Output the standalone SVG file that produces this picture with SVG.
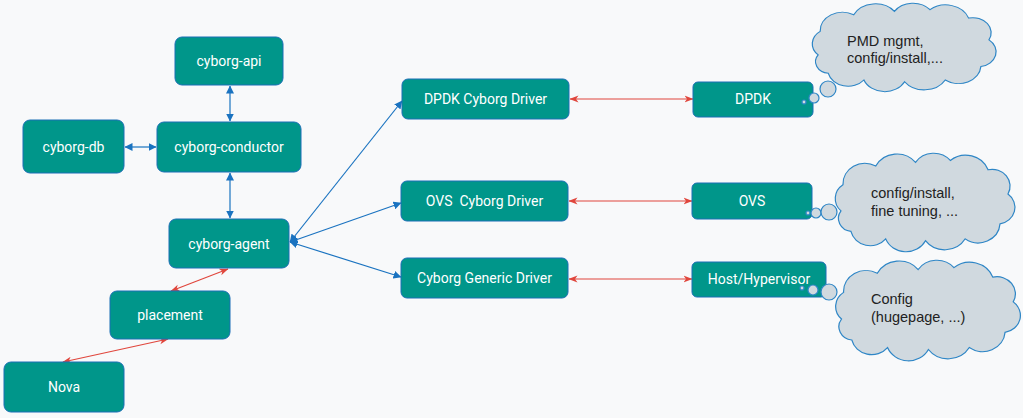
<svg xmlns="http://www.w3.org/2000/svg" width="1023" height="418" viewBox="0 0 1023 418">
<defs>
<marker id="ab" markerUnits="userSpaceOnUse" markerWidth="8" markerHeight="8" refX="7.5" refY="4" orient="auto-start-reverse"><path d="M0,0 L8,4 L0,8 Z" fill="#1a73c0"/></marker>
<marker id="ar" markerUnits="userSpaceOnUse" markerWidth="9" markerHeight="8" refX="8.5" refY="4" orient="auto-start-reverse"><path d="M0,0.5 L9,4 L0,7.5 L2.5,4 Z" fill="#e0463c"/></marker>
<path id="cloud" d="M20,62 A18 18 0 0 1 22,34 A22 22 0 0 1 55,14 A24 24 0 0 1 95,10 A22 22 0 0 1 130,8 A24 24 0 0 1 168,18 A18 18 0 0 1 188,44 A18 18 0 0 1 180,76 A22 22 0 0 1 145,92 A24 24 0 0 1 105,94 A22 22 0 0 1 65,92 A20 20 0 0 1 30,84 A14 14 0 0 1 20,62 Z"/>
</defs>
<style>
.box{fill:#00968a;stroke:#1b6fb5;stroke-width:1}
.lbl{fill:#ffffff;font-family:Roboto,"Liberation Sans",sans-serif;font-size:14px;text-anchor:middle}
.cl{fill:#d0d9df;stroke:#2e86c6;stroke-width:1.2}
.ct{fill:#222222;font-family:"Liberation Sans",Arial,sans-serif;font-size:14.5px}
.bl{stroke:#1a73c0;stroke-width:1.2;fill:none}
.rd{stroke:#e0463c;stroke-width:1.2;fill:none}
</style>
<rect width="1023" height="418" fill="#f8f9fa"/>

<g id="connectors">
<path class="bl" d="M230,86 L230,121" marker-start="url(#ab)" marker-end="url(#ab)"/>
<path class="bl" d="M125,147 L156,147" marker-start="url(#ab)" marker-end="url(#ab)"/>
<path class="bl" d="M230,173 L230,218" marker-start="url(#ab)" marker-end="url(#ab)"/>
<path class="bl" d="M290,242 L402,101" marker-start="url(#ab)" marker-end="url(#ab)"/>
<path class="bl" d="M290,242 L401,203" marker-start="url(#ab)" marker-end="url(#ab)"/>
<path class="bl" d="M290,242 L401,277" marker-start="url(#ab)" marker-end="url(#ab)"/>
<path class="rd" d="M570,99 L693,99" marker-start="url(#ar)" marker-end="url(#ar)"/>
<path class="rd" d="M569,201 L692,201" marker-start="url(#ar)" marker-end="url(#ar)"/>
<path class="rd" d="M569,279 L692,279" marker-start="url(#ar)" marker-end="url(#ar)"/>
<path class="rd" d="M228,269 L171,291" marker-start="url(#ar)" marker-end="url(#ar)"/>
<path class="rd" d="M168,339 L63,362" marker-start="url(#ar)" marker-end="url(#ar)"/>
</g>

<g id="cyborg-api"><rect class="box" x="175" y="37" width="108" height="48" rx="7"/><text class="lbl" x="229" y="66">cyborg-api</text></g>
<g id="cyborg-db"><rect class="box" x="23" y="120" width="101" height="53" rx="7"/><text class="lbl" x="73.5" y="152">cyborg-db</text></g>
<g id="cyborg-conductor"><rect class="box" x="157" y="122" width="144" height="50" rx="7"/><text class="lbl" x="229" y="152">cyborg-conductor</text></g>
<g id="cyborg-agent"><rect class="box" x="169" y="219" width="120" height="49" rx="7"/><text class="lbl" x="229" y="249">cyborg-agent</text></g>
<g id="placement"><rect class="box" x="110" y="291" width="120" height="48" rx="7"/><text class="lbl" x="170" y="320">placement</text></g>
<g id="nova"><rect class="box" x="4" y="362" width="120" height="50" rx="7"/><text class="lbl" x="64" y="392">Nova</text></g>

<g id="dpdk-driver"><rect class="box" x="402" y="79" width="167" height="40" rx="6"/><text class="lbl" x="485.5" y="104">DPDK Cyborg Driver</text></g>
<g id="ovs-driver"><rect class="box" x="401" y="181" width="167" height="40" rx="6"/><text class="lbl" x="484.5" y="206" xml:space="preserve">OVS  Cyborg Driver</text></g>
<g id="generic-driver"><rect class="box" x="401" y="258" width="167" height="40" rx="6"/><text class="lbl" x="484.5" y="283">Cyborg Generic Driver</text></g>

<g id="dpdk"><rect class="box" x="693" y="82" width="120" height="35" rx="5"/><text class="lbl" x="753" y="104">DPDK</text></g>
<g id="ovs"><rect class="box" x="692" y="183" width="120" height="36" rx="5"/><text class="lbl" x="752" y="206">OVS</text></g>
<g id="host"><rect class="box" x="692" y="262" width="134" height="35" rx="5"/><text class="lbl" x="759" y="284">Host/Hypervisor</text></g>

<g id="cloud-dpdk">
<circle class="cl" cx="804" cy="102" r="2"/>
<circle class="cl" cx="814" cy="98" r="5"/>
<circle class="cl" cx="828" cy="89" r="8"/>
<use href="#cloud" class="cl" transform="translate(797.8,3) scale(1.017,0.837)" style="vector-effect:non-scaling-stroke"/>
<text class="ct" x="847" y="46">PMD mgmt,</text>
<text class="ct" x="847" y="63">config/install,...</text>
</g>

<g id="cloud-ovs">
<circle class="cl" cx="808" cy="213" r="2"/>
<circle class="cl" cx="816" cy="213" r="5"/>
<circle class="cl" cx="829" cy="212" r="8"/>
<use href="#cloud" class="cl" transform="translate(821.1,153) scale(0.994,0.933)" style="vector-effect:non-scaling-stroke"/>
<text class="ct" x="871" y="198">config/install,</text>
<text class="ct" x="871" y="216">fine tuning, ...</text>
</g>

<g id="cloud-host">
<circle class="cl" cx="802" cy="288" r="2"/>
<circle class="cl" cx="813" cy="290" r="5"/>
<circle class="cl" cx="829" cy="292" r="8"/>
<use href="#cloud" class="cl" transform="translate(821.1,260) scale(1.022,0.952)" style="vector-effect:non-scaling-stroke"/>
<text class="ct" x="871" y="304">Config</text>
<text class="ct" x="871" y="322">(hugepage, ...)</text>
</g>
</svg>
